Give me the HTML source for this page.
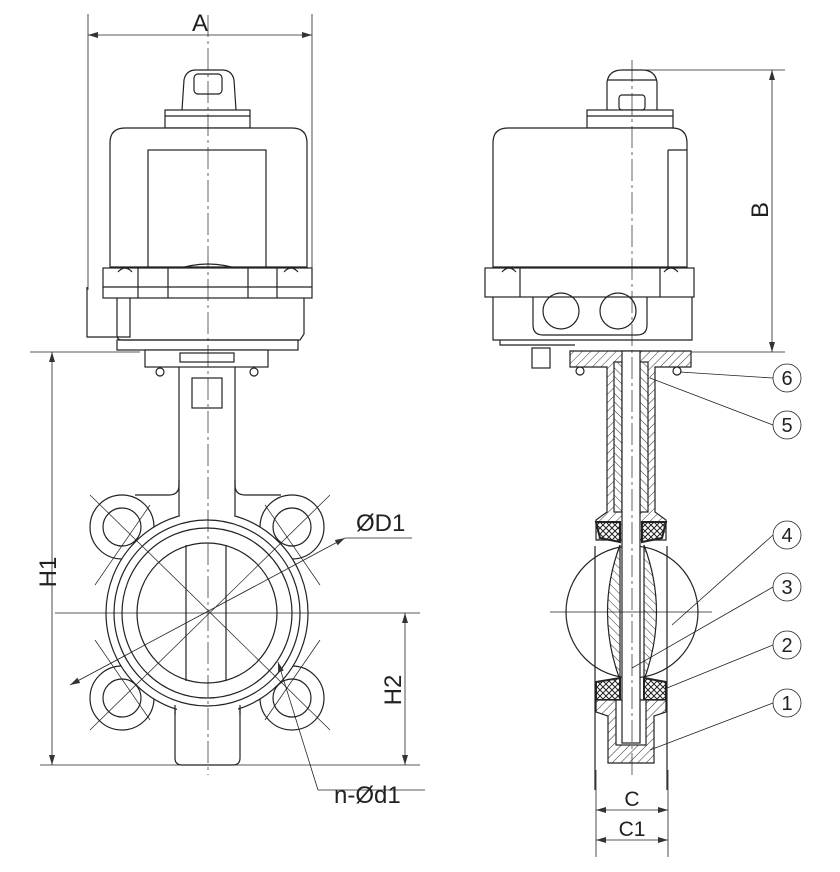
<!DOCTYPE html>
<html><head><meta charset="utf-8"><style>
html,body{margin:0;padding:0;background:#fff;}
svg{display:block}
text{font-family:"Liberation Sans",sans-serif;fill:#222}
</style></head><body>
<svg width="840" height="872" viewBox="0 0 840 872" xmlns="http://www.w3.org/2000/svg">
<defs>
<pattern id="h" width="6" height="6" patternUnits="userSpaceOnUse" patternTransform="rotate(45)">
<rect width="6" height="6" fill="#fff"/><line x1="0" y1="0" x2="0" y2="6" stroke="#333" stroke-width="1"/></pattern>
<pattern id="h2" width="6" height="6" patternUnits="userSpaceOnUse" patternTransform="rotate(-45)">
<rect width="6" height="6" fill="#fff"/><line x1="0" y1="0" x2="0" y2="6" stroke="#333" stroke-width="1"/></pattern>
<pattern id="x" width="6" height="6" patternUnits="userSpaceOnUse">
<rect width="6" height="6" fill="#fff"/><path d="M0 0L6 6M6 0L0 6" stroke="#222" stroke-width="1"/></pattern>
<marker id="ar" markerWidth="10" markerHeight="6" refX="10" refY="3" orient="auto" markerUnits="userSpaceOnUse"><path d="M0 0L10 3L0 6z" fill="#333"/></marker>
<marker id="al" markerWidth="10" markerHeight="6" refX="0" refY="3" orient="auto" markerUnits="userSpaceOnUse"><path d="M10 0L0 3L10 6z" fill="#333"/></marker>
</defs>
<g fill="none" stroke="#222" stroke-width="1.2">
<!-- ===== LEFT VIEW ===== -->
<!-- A dimension -->
<line x1="88" y1="14" x2="88" y2="290" stroke-width="0.8"/>
<line x1="312" y1="14" x2="312" y2="270" stroke-width="0.8"/>
<line x1="88" y1="35" x2="312" y2="35" stroke-width="0.8" marker-start="url(#al)" marker-end="url(#ar)"/>
<!-- knob -->
<path d="M182 110 L184 80 Q186 70 196 70 L222 70 Q232 70 234 80 L236 110" fill="#fff"/>
<rect x="194" y="74" width="28" height="20" rx="4"/>
<rect x="165" y="110" width="85" height="18" fill="#fff"/>
<line x1="165" y1="116" x2="250" y2="116"/>
<!-- body -->
<path d="M110 267 L110 143 Q110 128 125 128 L292 128 Q307 128 307 143 L307 267 Z" fill="#fff"/>
<rect x="148" y="150" width="118" height="120"/>
<path d="M175 270 Q208 258 241 270"/>
<!-- flange -->
<rect x="103" y="268" width="209" height="30" fill="#fff"/>
<line x1="103" y1="287" x2="312" y2="287"/>
<line x1="138" y1="268" x2="138" y2="298"/><line x1="168" y1="268" x2="168" y2="298"/>
<line x1="248" y1="268" x2="248" y2="298"/><line x1="277" y1="268" x2="277" y2="298"/>
<path d="M118 272 Q125 264 132 272" /><path d="M284 272 Q291 264 298 272"/>
<!-- lower -->
<path d="M87 287 L87 337 L130 337 L130 298" fill="none"/>
<path d="M117 298 L117 335 Q117 340 122 340 L300 340 L304 334 L304 298"/>
<rect x="117" y="340" width="181" height="10"/>
<!-- bracket -->
<rect x="145" y="350" width="123" height="17" fill="#fff"/>
<rect x="180" y="353" width="54" height="9"/>
<circle cx="160" cy="372" r="4"/><circle cx="254" cy="372" r="4"/>
<!-- neck -->
<path d="M179 367 L179 485 Q179 495 169 495 L135 495"/>
<path d="M235 367 L235 485 Q235 495 245 495 L281 495"/>
<rect x="192" y="378" width="30" height="30"/>
<!-- lugs -->
<circle cx="122" cy="527" r="32" fill="#fff"/>
<circle cx="292" cy="527" r="32" fill="#fff"/>
<circle cx="122" cy="698" r="32" fill="#fff"/>
<circle cx="292" cy="698" r="32" fill="#fff"/>
<!-- bottom boss -->
<path d="M175 700 L175 758 Q175 765 182 765 L233 765 Q240 765 240 758 L240 700" fill="#fff"/>
<circle cx="207" cy="613" r="101" fill="#fff"/>
<rect x="180" y="480" width="54" height="40" fill="#fff" stroke="none"/>
<rect x="177" y="700" width="61" height="20" fill="#fff" stroke="none"/>
<line x1="179" y1="480" x2="179" y2="515"/><line x1="235" y1="480" x2="235" y2="515"/>
<line x1="175" y1="705" x2="175" y2="715"/><line x1="240" y1="705" x2="240" y2="715"/>
<circle cx="207" cy="613" r="93"/>
<circle cx="207" cy="613" r="85"/>
<circle cx="207" cy="613" r="70"/>
<line x1="186" y1="545" x2="186" y2="681"/><line x1="226" y1="545" x2="226" y2="681"/>
<circle cx="122" cy="527" r="19"/><circle cx="292" cy="527" r="19"/>
<circle cx="122" cy="698" r="19"/><circle cx="292" cy="698" r="19"/>
<!-- center lines -->
<g stroke-width="0.7">
<line x1="208" y1="15" x2="208" y2="775" stroke-dasharray="22 4 3 4"/>
<line x1="55" y1="613" x2="420" y2="613"/>
<line x1="90" y1="495" x2="330" y2="730"/>
<line x1="90" y1="730" x2="330" y2="495"/>
<line x1="95" y1="585" x2="150" y2="505"/><line x1="265" y1="505" x2="320" y2="585"/>
<line x1="95" y1="640" x2="150" y2="720"/><line x1="265" y1="720" x2="320" y2="640"/>
</g>
<!-- H1 / H2 -->
<g stroke-width="0.8">
<line x1="30" y1="352" x2="140" y2="352"/>
<line x1="40" y1="765" x2="420" y2="765"/>
<line x1="52" y1="352" x2="52" y2="765" marker-start="url(#al)" marker-end="url(#ar)"/>
<line x1="405" y1="613" x2="405" y2="765" marker-start="url(#al)" marker-end="url(#ar)"/>
<!-- ØD1 leader -->
<line x1="70" y1="685" x2="345" y2="538" marker-start="url(#al)" marker-end="url(#ar)"/>
<line x1="345" y1="538" x2="412" y2="538"/>
<!-- n-Ød1 -->
<line x1="278" y1="662" x2="318" y2="790" marker-start="url(#al)"/>
<line x1="318" y1="790" x2="425" y2="790"/>
</g>

<!-- ===== RIGHT VIEW ===== -->
<g stroke-width="0.8">
<line x1="632" y1="70" x2="785" y2="70"/>
<line x1="690" y1="352" x2="785" y2="352"/>
<line x1="772" y1="70" x2="772" y2="352" marker-start="url(#al)" marker-end="url(#ar)"/>
</g>
<path d="M607 110 L607 82 Q609 70 622 70 L642 70 Q655 70 657 82 L657 110" fill="#fff"/>
<line x1="607" y1="80" x2="657" y2="80"/>
<rect x="619" y="95" width="26" height="15" rx="3"/>
<rect x="587" y="110" width="86" height="18" fill="#fff"/>
<line x1="587" y1="116" x2="673" y2="116"/>
<path d="M493 267 L493 143 Q493 128 508 128 L672 128 Q687 128 687 143 L687 267 Z" fill="#fff"/>
<line x1="668" y1="150" x2="668" y2="267"/><line x1="668" y1="150" x2="687" y2="150"/>
<rect x="485" y="268" width="209" height="29" fill="#fff"/>
<line x1="520" y1="268" x2="520" y2="297"/><line x1="660" y1="268" x2="660" y2="297"/>
<path d="M502 272 Q509 264 516 272"/><path d="M664 272 Q671 264 678 272"/>
<path d="M493 297 L493 340 L692 340 L692 297"/>
<path d="M533 297 L533 325 Q533 335 543 335 L637 335 Q647 335 647 325 L647 297"/>
<circle cx="561" cy="311" r="18"/><circle cx="618" cy="311" r="18"/>
<path d="M500 340 L500 345 L575 345"/>
<rect x="532" y="348" width="18" height="20"/>
<!-- flange (hatched) -->
<path d="M570 351 L691 351 L691 367 L655 367 L655 512 L666 520 L666 540 L596 540 L596 520 L607 512 L607 367 L570 367 Z" fill="url(#h)"/>
<circle cx="580" cy="371" r="4" fill="#fff"/><circle cx="677" cy="371" r="4" fill="#fff"/>
<rect x="614" y="362" width="8" height="150" fill="url(#h2)"/>
<rect x="640" y="362" width="8" height="150" fill="url(#h2)"/>
<!-- seat upper -->
<path d="M596 522 L620 522 L620 542 L600 538 Z" fill="url(#x)" stroke-width="2"/>
<path d="M666 522 L642 522 L642 542 L662 538 Z" fill="url(#x)" stroke-width="2"/>
<!-- disc -->
<circle cx="632" cy="612" r="66" fill="#fff"/>
<path d="M620 545 Q595 612 620 680 Z" fill="url(#h2)"/>
<path d="M644 545 Q669 612 644 680 Z" fill="url(#h2)"/>
<!-- seat lower + boss -->
<path d="M596 682 L620 678 L620 700 L596 700 Z" fill="url(#x)" stroke-width="2"/>
<path d="M666 682 L644 678 L644 700 L666 700 Z" fill="url(#x)" stroke-width="2"/>
<path d="M596 700 L666 700 L666 712 L654 716 L654 763 L608 763 L608 716 L596 712 Z" fill="url(#h)"/>
<rect x="616" y="700" width="30" height="45" fill="#fff"/>
<!-- stem -->
<rect x="622" y="351" width="18" height="392" fill="#fff"/>
<line x1="595" y1="546" x2="595" y2="790"/><line x1="667" y1="546" x2="667" y2="790"/>
<g stroke-width="0.7">
<line x1="632" y1="60" x2="632" y2="775" stroke-dasharray="22 4 3 4"/>
<line x1="550" y1="612" x2="712" y2="612"/>
</g>
<!-- C dims -->
<g stroke-width="0.8">
<line x1="596" y1="770" x2="596" y2="857"/><line x1="668" y1="770" x2="668" y2="857"/>
<line x1="596" y1="810" x2="668" y2="810" marker-start="url(#al)" marker-end="url(#ar)"/>
<line x1="596" y1="840" x2="668" y2="840" marker-start="url(#al)" marker-end="url(#ar)"/>
<!-- callouts -->
<line x1="680" y1="372" x2="773" y2="378"/>
<line x1="650" y1="378" x2="773" y2="425"/>
<line x1="672" y1="625" x2="773" y2="535"/>
<line x1="632" y1="668" x2="773" y2="587"/>
<line x1="667" y1="688" x2="773" y2="645"/>
<line x1="650" y1="750" x2="773" y2="703"/>
<circle cx="787" cy="378" r="14" fill="#fff"/><circle cx="787" cy="425" r="14" fill="#fff"/>
<circle cx="787" cy="535" r="14" fill="#fff"/><circle cx="787" cy="587" r="14" fill="#fff"/>
<circle cx="787" cy="645" r="14" fill="#fff"/><circle cx="787" cy="703" r="14" fill="#fff"/>
</g>
</g>
<g font-size="24">
<text x="200" y="31" text-anchor="middle">A</text>
<text x="48" y="572" text-anchor="middle" transform="rotate(-90 48 572)" dy="8">H1</text>
<text x="393" y="690" text-anchor="middle" transform="rotate(-90 393 690)" dy="8">H2</text>
<text x="760" y="210" text-anchor="middle" transform="rotate(-90 760 210)" dy="8">B</text>
<text x="356" y="531">ØD1</text>
<text x="334" y="803">n-Ød1</text>
<text x="632" y="806" text-anchor="middle" font-size="21">C</text>
<text x="632" y="836" text-anchor="middle" font-size="21">C1</text>
</g>
<g font-size="20" text-anchor="middle">
<text x="787" y="385">6</text><text x="787" y="432">5</text><text x="787" y="542">4</text>
<text x="787" y="594">3</text><text x="787" y="652">2</text><text x="787" y="710">1</text>
</g>
</svg>
</body></html>
